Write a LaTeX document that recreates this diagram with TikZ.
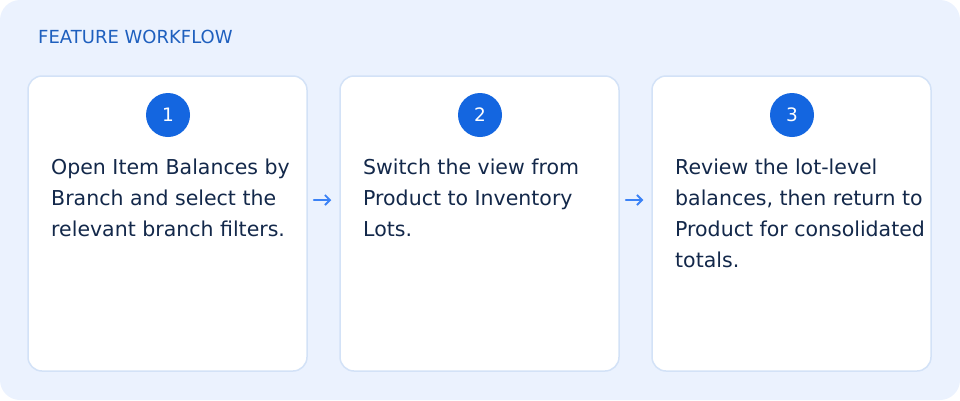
\documentclass[tikz,border=0pt]{standalone}
\usepackage{fontspec}
\setmainfont{DejaVu Sans}
\usepackage{xcolor}
\usepackage{tikz}
\usetikzlibrary{arrows.meta,positioning}
\definecolor{panelbg}{HTML}{EBF2FE}
\definecolor{cardline}{HTML}{D3E2F7}
\definecolor{badgeblue}{HTML}{1466E0}
\definecolor{titleblue}{HTML}{1E5FBE}
\definecolor{bodyink}{HTML}{13284A}
\definecolor{arrowblue}{HTML}{3B82F6}
\tikzstyle{card}=[draw=cardline, fill=white, line width=1.5pt,
rounded corners=14pt, minimum width=279pt, minimum height=295pt, inner sep=0pt]
\tikzstyle{badge}=[circle, fill=badgeblue, text=white, minimum size=44pt,
inner sep=0pt, font=\fontsize{18.5}{22}\selectfont]
\tikzstyle{body}=[anchor=north west, align=left, inner sep=0pt, text=bodyink,
font=\fontsize{20.5}{31}\selectfont]
\tikzstyle{flow}=[-{Straight Barb[length=5pt,width=10pt]}, line width=1.8pt,
draw=arrowblue, line cap=round]
\begin{document}
\begin{tikzpicture}[x=1pt,y=-1pt]
\fill[panelbg, rounded corners=20pt] (0,0) rectangle (960,400);
\node[anchor=west, inner sep=0pt, text=titleblue, font=\fontsize{18}{21}\selectfont] (title) at (38,37) {FEATURE WORKFLOW};
% cards
\node[card] (c1) at (167.5,223.5) {};
\node[card] (c2) at (479.5,223.5) {};
\node[card] (c3) at (791.5,223.5) {};
\node[badge] (b1) at (168,115) {1};
\node[badge] (b2) at (480,115) {2};
\node[badge] (b3) at (792,115) {3};
\node[body] (t1) at (51,158.5) {Open Item Balances by\\Branch and select the\\relevant branch filters.};
\node[body] (t2) at (363,158.5) {Switch the view from\\Product to Inventory\\Lots.};
\node[body] (t3) at (675,158.5) {Review the lot-level\\balances, then return to\\Product for consolidated\\totals.};
% arrows
\draw[flow] ([xshift=6pt]c1.east |- 0,200) -- ([xshift=-8pt]c2.west |- 0,200);
\draw[flow] ([xshift=6pt]c2.east |- 0,200) -- ([xshift=-8pt]c3.west |- 0,200);
\end{tikzpicture}
\end{document}
